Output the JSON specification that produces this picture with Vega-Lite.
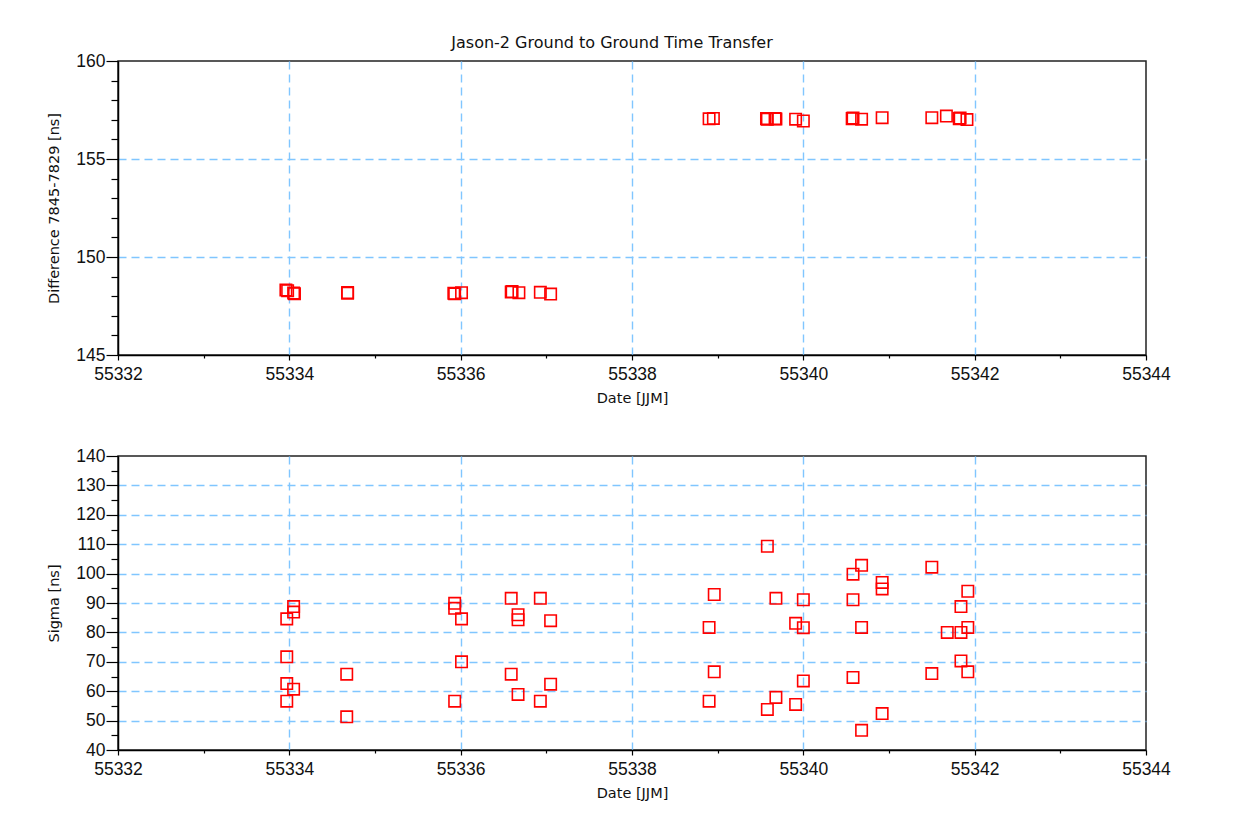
{
  "$schema": "https://vega.github.io/schema/vega-lite/v6.json",
  "background": "white",
  "padding": {"left": 46, "top": 34, "right": 0, "bottom": 0},
  "spacing": 40,
  "datasets": {
    "diff": [
      {"mjd": 55333.96, "diff": 148.31}, {"mjd": 55333.98, "diff": 148.28},
      {"mjd": 55334.06, "diff": 148.13}, {"mjd": 55334.05, "diff": 148.16},
      {"mjd": 55334.68, "diff": 148.15}, {"mjd": 55334.68, "diff": 148.19},
      {"mjd": 55335.92, "diff": 148.15}, {"mjd": 55335.93, "diff": 148.12},
      {"mjd": 55336.01, "diff": 148.18},
      {"mjd": 55336.59, "diff": 148.21}, {"mjd": 55336.60, "diff": 148.24},
      {"mjd": 55336.68, "diff": 148.18},
      {"mjd": 55336.93, "diff": 148.20}, {"mjd": 55337.05, "diff": 148.11},
      {"mjd": 55338.90, "diff": 157.05}, {"mjd": 55338.95, "diff": 157.07},
      {"mjd": 55339.57, "diff": 157.06}, {"mjd": 55339.58, "diff": 157.03},
      {"mjd": 55339.67, "diff": 157.06}, {"mjd": 55339.68, "diff": 157.04},
      {"mjd": 55339.91, "diff": 157.03}, {"mjd": 55340.00, "diff": 156.94},
      {"mjd": 55340.57, "diff": 157.06}, {"mjd": 55340.58, "diff": 157.09},
      {"mjd": 55340.68, "diff": 157.03},
      {"mjd": 55340.92, "diff": 157.11}, {"mjd": 55341.50, "diff": 157.11},
      {"mjd": 55341.67, "diff": 157.19},
      {"mjd": 55341.82, "diff": 157.06}, {"mjd": 55341.83, "diff": 157.09},
      {"mjd": 55341.91, "diff": 157.01}
    ],
    "sigma": [
      {"mjd": 55333.97, "sigma": 84.6}, {"mjd": 55333.97, "sigma": 71.7}, {"mjd": 55333.97, "sigma": 62.6}, {"mjd": 55333.97, "sigma": 56.6},
      {"mjd": 55334.05, "sigma": 88.8}, {"mjd": 55334.05, "sigma": 86.9}, {"mjd": 55334.05, "sigma": 60.7},
      {"mjd": 55334.67, "sigma": 65.8}, {"mjd": 55334.67, "sigma": 51.3},
      {"mjd": 55335.93, "sigma": 89.9}, {"mjd": 55335.93, "sigma": 88.2}, {"mjd": 55335.93, "sigma": 56.6},
      {"mjd": 55336.01, "sigma": 84.6}, {"mjd": 55336.01, "sigma": 70.0},
      {"mjd": 55336.59, "sigma": 91.6}, {"mjd": 55336.59, "sigma": 65.8},
      {"mjd": 55336.67, "sigma": 86.0}, {"mjd": 55336.67, "sigma": 84.3}, {"mjd": 55336.67, "sigma": 58.9},
      {"mjd": 55336.93, "sigma": 91.6}, {"mjd": 55336.93, "sigma": 56.6},
      {"mjd": 55337.05, "sigma": 84.0}, {"mjd": 55337.05, "sigma": 62.4},
      {"mjd": 55338.90, "sigma": 81.7}, {"mjd": 55338.90, "sigma": 56.6},
      {"mjd": 55338.96, "sigma": 92.9}, {"mjd": 55338.96, "sigma": 66.6},
      {"mjd": 55339.58, "sigma": 109.3}, {"mjd": 55339.58, "sigma": 53.8},
      {"mjd": 55339.68, "sigma": 91.6}, {"mjd": 55339.68, "sigma": 57.9},
      {"mjd": 55339.91, "sigma": 83.1}, {"mjd": 55339.91, "sigma": 55.5},
      {"mjd": 55340.00, "sigma": 91.1}, {"mjd": 55340.00, "sigma": 81.6}, {"mjd": 55340.00, "sigma": 63.5},
      {"mjd": 55340.58, "sigma": 99.8}, {"mjd": 55340.58, "sigma": 91.1}, {"mjd": 55340.58, "sigma": 64.7},
      {"mjd": 55340.68, "sigma": 102.8}, {"mjd": 55340.68, "sigma": 81.7}, {"mjd": 55340.68, "sigma": 46.7},
      {"mjd": 55340.92, "sigma": 97.0}, {"mjd": 55340.92, "sigma": 94.8}, {"mjd": 55340.92, "sigma": 52.4},
      {"mjd": 55341.50, "sigma": 102.2}, {"mjd": 55341.50, "sigma": 66.0},
      {"mjd": 55341.68, "sigma": 80.0},
      {"mjd": 55341.84, "sigma": 88.8}, {"mjd": 55341.84, "sigma": 80.0}, {"mjd": 55341.84, "sigma": 70.3},
      {"mjd": 55341.92, "sigma": 94.0}, {"mjd": 55341.92, "sigma": 81.7}, {"mjd": 55341.92, "sigma": 66.6}
    ]
  },
  "config": {
    "view": {"stroke": "#222", "strokeWidth": 1.5},
    "font": "Liberation Sans",
    "axis": {
      "domainColor": "#000",
      "domainWidth": 1.5,
      "tickColor": "#000",
      "tickWidth": 1.2,
      "labelColor": "#111",
      "labelFont": "Liberation Sans",
      "labelFontSize": 17.5,
      "titleFont": "DejaVu Sans",
      "titleFontSize": 14.5,
      "titleFontWeight": "normal",
      "titleColor": "#111",
      "gridColor": "#80c6ff",
      "gridDash": [8, 5],
      "gridWidth": 1.4
    }
  },
  "vconcat": [
    {
      "title": {"text": "Jason-2 Ground to Ground Time Transfer", "font": "DejaVu Sans", "fontSize": 16, "fontWeight": "normal", "color": "#111", "anchor": "middle", "dx": -20, "offset": 1},
      "width": 1028,
      "height": 294,
      "data": {"name": "diff"},
      "mark": {"type": "point", "shape": "square", "filled": false, "color": "#ff0000", "size": 130, "strokeWidth": 1.6, "opacity": 1},
      "encoding": {
        "x": {
          "field": "mjd", "type": "quantitative",
          "scale": {"domain": [55332, 55344], "zero": false, "nice": false},
          "axis": {
            "title": "Date [JJM]",
            "values": [55332, 55332.5, 55333, 55333.5, 55334, 55334.5, 55335, 55335.5, 55336, 55336.5, 55337, 55337.5, 55338, 55338.5, 55339, 55339.5, 55340, 55340.5, 55341, 55341.5, 55342, 55342.5, 55343, 55343.5, 55344],
            "format": "d",
            "labelExpr": "datum.value % 2 === 0 ? datum.label : ''",
            "tickSize": {"condition": {"test": "datum.value % 2 === 0", "value": 5}, "value": 3},
            "gridOpacity": {"condition": {"test": "datum.value % 2 === 0 && datum.value > 55332 && datum.value < 55344", "value": 1}, "value": 0},
            "labelPadding": 5,
            "titlePadding": 9,
            "labelFlush": false,
            "labelOverlap": false
          }
        },
        "y": {
          "field": "diff", "type": "quantitative",
          "scale": {"domain": [145, 160], "zero": false, "nice": false},
          "axis": {
            "title": "Difference 7845-7829 [ns]",
            "values": [145, 146, 147, 148, 149, 150, 151, 152, 153, 154, 155, 156, 157, 158, 159, 160],
            "labelExpr": "datum.value % 5 === 0 ? datum.label : ''",
            "tickSize": {"condition": {"test": "datum.value % 5 === 0", "value": 12}, "value": 7},
            "gridOpacity": {"condition": {"test": "datum.value % 5 === 0 && datum.value > 145 && datum.value < 160", "value": 1}, "value": 0},
            "labelPadding": 1,
            "titlePadding": 14,
            "labelFlush": false,
            "labelOverlap": false
          }
        }
      }
    },
    {
      "width": 1028,
      "height": 294,
      "data": {"name": "sigma"},
      "mark": {"type": "point", "shape": "square", "filled": false, "color": "#ff0000", "size": 130, "strokeWidth": 1.6, "opacity": 1},
      "encoding": {
        "x": {
          "field": "mjd", "type": "quantitative",
          "scale": {"domain": [55332, 55344], "zero": false, "nice": false},
          "axis": {
            "title": "Date [JJM]",
            "values": [55332, 55332.5, 55333, 55333.5, 55334, 55334.5, 55335, 55335.5, 55336, 55336.5, 55337, 55337.5, 55338, 55338.5, 55339, 55339.5, 55340, 55340.5, 55341, 55341.5, 55342, 55342.5, 55343, 55343.5, 55344],
            "format": "d",
            "labelExpr": "datum.value % 2 === 0 ? datum.label : ''",
            "tickSize": {"condition": {"test": "datum.value % 2 === 0", "value": 5}, "value": 3},
            "gridOpacity": {"condition": {"test": "datum.value % 2 === 0 && datum.value > 55332 && datum.value < 55344", "value": 1}, "value": 0},
            "labelPadding": 5,
            "titlePadding": 9,
            "labelFlush": false,
            "labelOverlap": false
          }
        },
        "y": {
          "field": "sigma", "type": "quantitative",
          "scale": {"domain": [40, 140], "zero": false, "nice": false},
          "axis": {
            "title": "Sigma [ns]",
            "values": [40, 45, 50, 55, 60, 65, 70, 75, 80, 85, 90, 95, 100, 105, 110, 115, 120, 125, 130, 135, 140],
            "labelExpr": "datum.value % 10 === 0 ? datum.label : ''",
            "tickSize": {"condition": {"test": "datum.value % 10 === 0", "value": 12}, "value": 7},
            "gridOpacity": {"condition": {"test": "datum.value % 10 === 0 && datum.value > 40 && datum.value < 140", "value": 1}, "value": 0},
            "labelPadding": 1,
            "titlePadding": 14,
            "labelFlush": false,
            "labelOverlap": false
          }
        }
      }
    }
  ]
}
